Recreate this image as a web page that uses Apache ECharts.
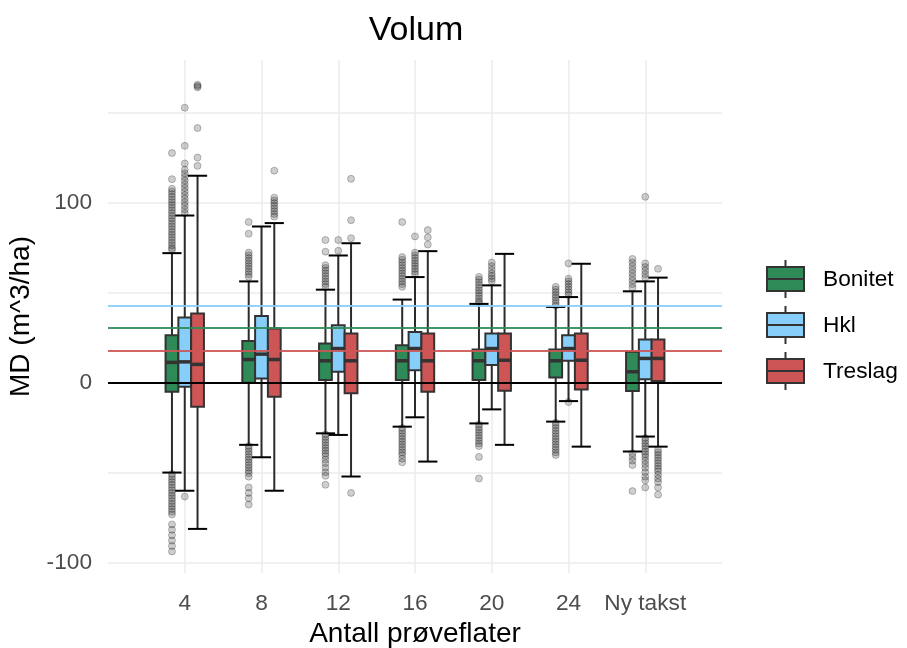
<!DOCTYPE html>
<html>
<head>
<meta charset="utf-8">
<script src="https://cdn.jsdelivr.net/npm/echarts@6/dist/echarts.min.js"></script>
<style>
  html, body { margin: 0; padding: 0; background: #fff; }
  #chart { width: 907px; height: 648px; }
</style>
</head>
<body>
<div id="chart"></div>
<script>
const categories = ['4', '8', '12', '16', '20', '24', 'Ny takst']
const groupNames = ['Bonitet', 'Hkl', 'Treslag']
const groupColors = ['#2E8B57', '#87CEFA', '#CD5555']
// mean lines per group
const refLevels = [30.8, 43.2, 17.7]
const yTickLabels = [-100, 0, 100]

// [lower whisker, Q1, median, Q3, upper whisker]
const bonitetBox = [
  [-49.7, -4.8, 11.5, 26.6, 72.2],
  [-34.3, 0.2, 13.1, 23.4, 56.5],
  [-27.9, 1.7, 12.4, 22.0, 51.9],
  [-24.2, 1.7, 12.4, 21.0, 46.4],
  [-22.4, 1.7, 12.4, 18.7, 44.0],
  [-21.4, 3.1, 12.4, 18.7, 42.3],
  [-38.0, -4.4, 6.3, 17.4, 51.0]
]
const hklBox = [
  [-59.8, -2.0, 11.8, 36.4, 93.1],
  [-41.2, 2.6, 16.1, 37.3, 87.0],
  [-28.8, 6.3, 19.2, 32.1, 70.9],
  [-19.0, 7.2, 19.2, 28.4, 58.9],
  [-14.6, 10.0, 19.2, 27.5, 54.3],
  [-10.0, 12.4, 19.2, 26.6, 47.8],
  [-29.7, 2.2, 13.7, 24.2, 56.5]
]
const treslagBox = [
  [-81.0, -13.1, 10.4, 38.6, 115.2],
  [-59.8, -7.6, 13.1, 30.3, 88.9],
  [-51.9, -5.7, 12.4, 27.5, 77.7],
  [-43.6, -4.8, 12.4, 27.5, 73.3],
  [-34.3, -4.2, 12.7, 27.5, 71.8],
  [-35.3, -3.5, 12.7, 27.5, 66.3],
  [-35.3, 1.1, 13.7, 24.2, 58.6]
]

// outliers per category
const bonitetOut = [
  [127.8, 113.3, 108, 106.5, 105, 103.5, 102, 100.5, 99, 97.5, 96, 94.5, 93, 91.5, 90, 88.5, 87, 85.5, 84, 82.5, 81, 79.5, 78, 76.5, 75, 74,
    -50.5, -52, -53.5, -55, -56.5, -58, -59.5, -61, -62.5, -64, -65.5, -67, -68.5, -70, -71.5, -73, -78.5, -81.5, -84.5, -87.5, -90.5, -93.5],
  [89.5, 83, 72.5, 71, 69.5, 68, 66.5, 65, 63.5, 62, 60.5, 59,
    -35, -36.5, -38, -39.5, -41, -42.5, -44, -45.5, -47, -48.5, -50, -52, -58, -61, -64, -67.5],
  [79.5, 73, 65.5, 64, 62.5, 61, 59.5, 58, 56.5, 55, 53.5,
    -28.5, -30, -31.5, -33, -34.5, -36, -37.5, -39, -40.5, -42.5, -44.5, -47, -49.5, -51.5, -56.5],
  [89.5, 70, 68.5, 67, 65.5, 64, 62.5, 61, 59.5, 58, 56.5, 55, 53.5,
    -25, -26.5, -28, -29.5, -31, -32.5, -34, -35.5, -37, -38.5, -40, -42, -44],
  [59, 57.5, 56, 54.5, 53, 51.5, 50, 48.5, 47, 45.5, 44.5,
    -23, -24.5, -26, -27.5, -29, -30.5, -32, -33.5, -35, -41, -53],
  [53.5, 52, 50.5, 49, 47.5, 46, 44.5, 43,
    -22, -23.5, -25, -26.5, -28, -29.5, -31, -32.5, -34, -35.5, -37, -38.5, -40],
  [69, 67, 65, 63, 61, 59, 57, 55, 53,
    -39, -41, -43, -45.5, -60]
]
const hklOut = [
  [153, 131.8, 122, 118.5, 116.5, 114.5, 112.5, 110.5, 108.5, 106.5, 104.5, 102.5, 100.5, 98.5, 96.5, 94.5, -63],
  [],
  [79.5, 73.5],
  [81.5, 72.5, 71, 69.5, 68, 66.5, 65, 63.5, 62, 60.5],
  [67, 65, 63, 61, 59.5, 58, 56.5],
  [66.5, 58, 56.5, 55, 53.5, 52, 50.5, 49, -10.5],
  [103.5, 66.5, 64.5, 62.5, 60.5, 58.5,
    -30.5, -32, -33.5, -35, -36.5, -38, -39.5, -41, -43, -45, -47, -49.5, -52, -54, -58]
]
const treslagOut = [
  [165.7, 165, 164.3, 141.7, 125.3, 120.7],
  [118, 103, 101.5, 100, 98.5, 97, 95.5, 94, 92.5],
  [113.5, 90.5, 80.5, -61],
  [85, 81, 77],
  [],
  [],
  [63.5, -37, -38.5, -40, -41.5, -43, -44.5, -46, -47.5, -49, -51, -53, -55, -58, -62]
]

const boxes = [bonitetBox, hklBox, treslagBox]
const outliers = [bonitetOut, hklOut, treslagOut]

const FONT = 'Liberation Sans, Arial, sans-serif'
const DODGE = 1 / 6   // distance between group centres (axis units)
const BOX_W = 1 / 6
const CAP_W = 0.25

function makeRenderer(g, color) {
  return (params, api) => {
    const xc = api.value(0) + 1 + (g - 1) * DODGE
    const lo = api.coord([xc, api.value(1)])
    const q1 = api.coord([xc, api.value(2)])
    const med = api.coord([xc, api.value(3)])
    const q3 = api.coord([xc, api.value(4)])
    const hi = api.coord([xc, api.value(5)])
    const bl = api.coord([xc - BOX_W / 2, 0])[0]
    const br = api.coord([xc + BOX_W / 2, 0])[0]
    const cl = api.coord([xc - CAP_W / 2, 0])[0]
    const cr = api.coord([xc + CAP_W / 2, 0])[0]
    const line = '#2b2b2b'
    return {
      type: 'group',
      children: [
        { type: 'line', shape: { x1: lo[0], y1: lo[1], x2: hi[0], y2: hi[1] }, style: { stroke: line, lineWidth: 2 } },
        { type: 'line', shape: { x1: cl, y1: lo[1], x2: cr, y2: lo[1] }, style: { stroke: '#000', lineWidth: 2 } },
        { type: 'line', shape: { x1: cl, y1: hi[1], x2: cr, y2: hi[1] }, style: { stroke: '#000', lineWidth: 2 } },
        { type: 'rect', shape: { x: bl, y: q3[1], width: br - bl, height: q1[1] - q3[1] }, style: { fill: color, stroke: '#333', lineWidth: 2 } },
        { type: 'line', shape: { x1: bl, y1: med[1], x2: br, y2: med[1] }, style: { stroke: '#333', lineWidth: 3.5 } }
      ]
    }
  }
}

const series = []
groupNames.forEach((name, g) => {
  series.push({
    name,
    type: 'custom',
    renderItem: makeRenderer(g, groupColors[g]),
    encode: { x: 0, y: [1, 2, 3, 4, 5] },
    data: boxes[g].map((b, i) => [i, ...b]),
    markLine: {
      silent: true,
      symbol: 'none',
      label: { show: false },
      lineStyle: { color: groupColors[g], width: 2, type: 'solid', opacity: 0.9 },
      data: [{ yAxis: refLevels[g] }]
    }
  })
})
groupNames.forEach((name, g) => {
  const pts = []
  outliers[g].forEach((vals, i) => {
    vals.forEach((v) => pts.push([i + 1 + (g - 1) * DODGE, v]))
  })
  series.push({
    name: name + ' outliers',
    type: 'scatter',
    symbolSize: 7,
    itemStyle: { color: 'rgba(0,0,0,0.24)', borderColor: 'rgba(0,0,0,0.3)', borderWidth: 1 },
    data: pts,
    z: 3
  })
})
// zero line
series.push({
  type: 'line',
  data: [],
  markLine: {
    silent: true,
    symbol: 'none',
    label: { show: false },
    lineStyle: { color: '#000', width: 2, type: 'solid' },
    data: [{ yAxis: 0 }]
  }
})

// legend drawn by hand (boxplot key)
const legendItems = []
groupNames.forEach((name, g) => {
  const cy = 279 + g * 46
  legendItems.push(
    { type: 'line', shape: { x1: 785.5, y1: cy - 19, x2: 785.5, y2: cy + 19 }, style: { stroke: '#333', lineWidth: 2 } },
    { type: 'rect', shape: { x: 767, y: cy - 12, width: 37, height: 24 }, style: { fill: groupColors[g], stroke: '#333', lineWidth: 2 } },
    { type: 'line', shape: { x1: 767, y1: cy, x2: 804, y2: cy }, style: { stroke: '#333', lineWidth: 2 } },
    { type: 'text', x: 823, y: cy + 1, style: { text: name, font: '22.7px ' + FONT, fill: '#000', verticalAlign: 'middle' } }
  )
})

const option = {
  animation: false,
  title: {
    text: 'Volum',
    left: 411,
    top: 9,
    textAlign: 'center',
    textStyle: { fontFamily: FONT, fontSize: 34, fontWeight: 'normal', color: '#000' }
  },
  grid: { left: 108, right: 185, top: 60, bottom: 75, outerBoundsMode: 'none' },
  xAxis: {
    type: 'value',
    min: 0,
    max: 8,
    interval: 1,
    axisLine: { show: false },
    axisTick: { show: false },
    axisLabel: {
      formatter: (v) => categories[v - 1] || '',
      fontFamily: FONT,
      fontSize: 22.7,
      color: '#4D4D4D',
      margin: 19
    },
    splitLine: { show: true, showMinLine: false, showMaxLine: false, lineStyle: { color: '#EBEBEB', width: 1.5 } },
    name: 'Antall prøveflater',
    nameLocation: 'middle',
    nameGap: 46,
    nameTextStyle: { fontFamily: FONT, fontSize: 28, color: '#000' }
  },
  yAxis: {
    type: 'value',
    min: -105.5,
    max: 179.5,
    splitNumber: 5,
    axisLine: { show: false },
    axisTick: { show: false },
    axisLabel: {
      formatter: (v) => (yTickLabels.includes(v) ? String(v) : ''),
      fontFamily: FONT,
      fontSize: 22.7,
      color: '#4D4D4D',
      margin: 16
    },
    splitLine: { show: true, showMinLine: false, showMaxLine: false, lineStyle: { color: '#EBEBEB', width: 1.5 } },
    name: 'MD (m^3/ha)',
    nameLocation: 'middle',
    nameGap: 60,
    nameTextStyle: { fontFamily: FONT, fontSize: 28, color: '#000' }
  },
  graphic: legendItems,
  series
}

const myChart = echarts.init(document.getElementById('chart'))
myChart.setOption(option)
window.addEventListener('resize', () => {
  myChart.resize()
})
</script>
</body>
</html>
